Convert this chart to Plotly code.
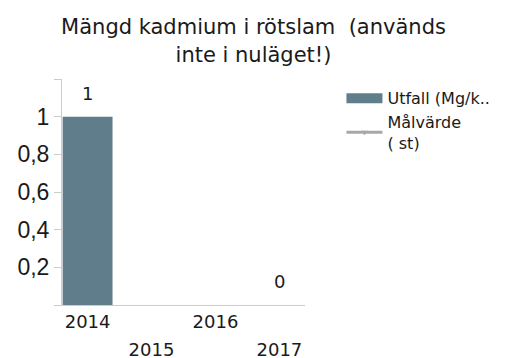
import plotly.graph_objects as go

# Data
years = ["2014", "2015", "2016", "2017"]
utfall = [1, None, None, 0]          # Utfall (Mg/k..)
malvarde = [None, None, None, None]  # Målvärde ( st)
y_tickvals = [0, 0.2, 0.4, 0.6, 0.8, 1.0, 1.2]
y_ticktext = ["", "0,2", "0,4", "0,6", "0,8", "1", ""]

bar_color = "#607D8B"
target_color = "#A8A8A8"
axis_color = "#CCCCCC"
text_color = "#1A1A1A"


def small(s, px=18):
    return f"<span style='font-size:{px}px'>{s}</span>"


# staggered year labels: every second one drops to a second row
x_ticktext = [small(y) if i % 2 == 0 else "<br>" + small(y) for i, y in enumerate(years)]

fig = go.Figure()

fig.add_trace(go.Bar(
    x=years, y=utfall, width=0.78,
    marker=dict(color=bar_color, line=dict(width=0)),
    name="Utfall (Mg/k..", showlegend=False,
))
# wide swatch for the bar series in the legend
fig.add_trace(go.Scatter(
    x=[None], y=[None], mode="lines",
    line=dict(color=bar_color, width=12),
    name="Utfall (Mg/k..",
))
fig.add_trace(go.Scatter(
    x=years, y=malvarde, mode="lines+markers",
    line=dict(color=target_color, width=3),
    marker=dict(symbol="triangle-down", size=6, color=target_color),
    name="Målvärde<br>( st)",
))

# value labels above the bars
for i, v in enumerate(utfall):
    if v is None:
        continue
    fig.add_annotation(
        x=i, y=v, xref="x", yref="y", text=f"{v:g}", showarrow=False,
        yanchor="bottom", yshift=11,
        font=dict(family="DejaVu Sans", size=18, color=text_color),
    )

fig.update_layout(
    width=507, height=358, autosize=False,
    margin=dict(l=62, r=187, t=79, b=53, pad=0),
    paper_bgcolor="white", plot_bgcolor="white",
    title=dict(
        text="Mängd kadmium i rötslam\u00a0 (används<br>inte i nuläget!)",
        x=0.5, xanchor="center", y=0.904, yanchor="top", yref="container",
        font=dict(family="DejaVu Sans", size=21, color=text_color),
    ),
    legend=dict(
        x=1.15, xanchor="left", y=0.99, yanchor="top",
        font=dict(family="DejaVu Sans", size=16, color=text_color),
        itemwidth=36, bgcolor="rgba(0,0,0,0)",
    ),
    xaxis=dict(
        type="category", range=[-0.4, 3.4], automargin=False,
        tickvals=years, ticktext=x_ticktext,
        showline=True, linecolor=axis_color, linewidth=1,
        ticks="", showgrid=False, zeroline=False, ticklabelstandoff=-3,
        tickfont=dict(family="DejaVu Sans", size=21, color=text_color),
    ),
    yaxis=dict(
        range=[0, 1.2], tickvals=y_tickvals, ticktext=y_ticktext, automargin=False,
        showline=True, linecolor=axis_color, linewidth=1,
        ticks="outside", ticklen=7, tickcolor=axis_color,
        showgrid=False, zeroline=False,
        tickfont=dict(family="Liberation Sans", size=23, color=text_color),
    ),
)

fig.write_html("out.html")
